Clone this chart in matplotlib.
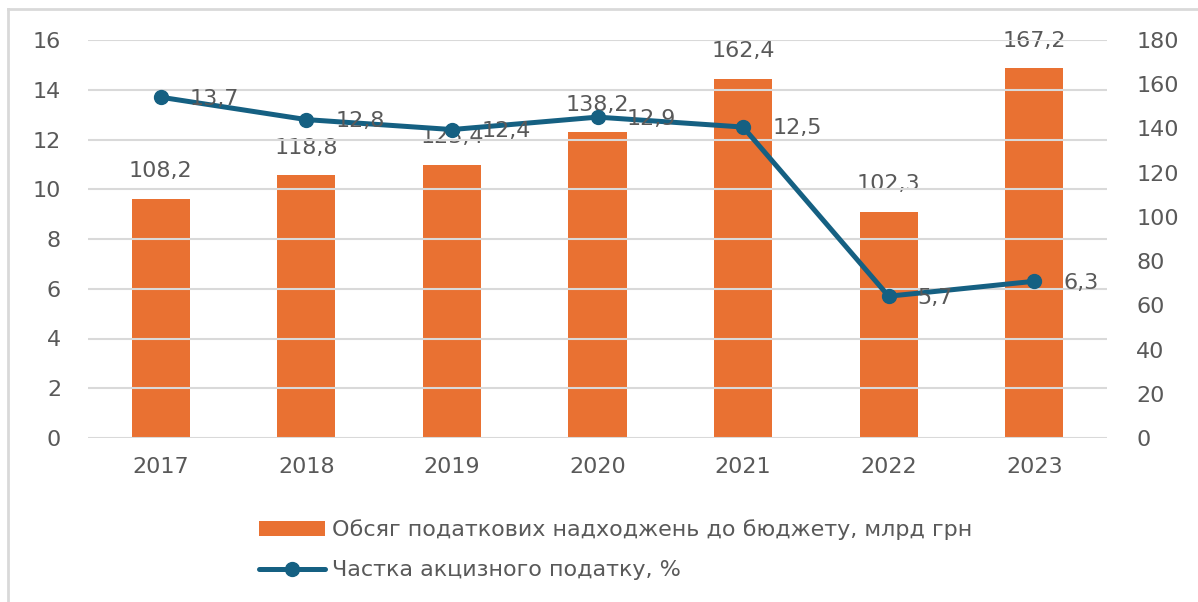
import matplotlib
matplotlib.use("Agg")
import matplotlib.pyplot as plt
from matplotlib.lines import Line2D

years = ["2017", "2018", "2019", "2020", "2021", "2022", "2023"]
revenue = [108.2, 118.8, 123.4, 138.2, 162.4, 102.3, 167.2]
excise_share = [13.7, 12.8, 12.4, 12.9, 12.5, 5.7, 6.3]
left_ticks = [0, 2, 4, 6, 8, 10, 12, 14, 16]
right_ticks = [0, 20, 40, 60, 80, 100, 120, 140, 160, 180]
bar_label = "Обсяг податкових надходжень до бюджету, млрд грн"
line_label = "Частка акцизного податку, %"

BAR_C = "#E97132"
LINE_C = "#156082"
TXT_C = "#595959"
GRID_C = "#D9D9D9"

plt.rcParams['font.family'] = ['DejaVu Sans']

fig = plt.figure(figsize=(11.98, 6.02), dpi=100)
bx, by = 8/1198, 1 - 9/602
fig.lines.append(Line2D([bx, bx], [0, by], transform=fig.transFigure, color="#D9D9D9", linewidth=2))
fig.lines.append(Line2D([bx, 1.0], [by, by], transform=fig.transFigure, color="#D9D9D9", linewidth=2))

axL = fig.add_axes([88/1198, 1 - 438/602, (1107-88)/1198, (438-40)/602])
axR = axL.twinx()

x = list(range(len(years)))

# bars on right axis
bars = axR.bar(x, revenue, width=0.4, color=BAR_C, zorder=2, label=bar_label)
axR.set_ylim(0, 180)
axR.set_yticks(right_ticks)
for xi, v in zip(x, revenue):
    axR.annotate(f"{v:.1f}".replace(".", ","), (xi, v), xytext=(0, 20), textcoords="offset points",
                 ha="center", va="center", fontsize=16, color=TXT_C)

# line on left axis
axL.set_ylim(0, 16)
axL.set_yticks(left_ticks)
axL.set_xlim(-0.5, len(years) - 0.5)
axL.set_xticks(x)
axL.set_xticklabels(years)
for t in left_ticks:
    axL.axhline(t, color=GRID_C, linewidth=1.5, zorder=0)

axL.set_zorder(axR.get_zorder() + 1)
axL.patch.set_visible(False)
line, = axL.plot(x, excise_share, color=LINE_C, linewidth=3.6, marker="o", markersize=10,
                 zorder=5, label=line_label, solid_capstyle="round")
for xi, v in zip(x, excise_share):
    axL.annotate(f"{v:.1f}".replace(".", ","), (xi, v), xytext=(21, -1), textcoords="offset points",
                 ha="left", va="center", fontsize=16, color=TXT_C, zorder=6)

for ax in (axL, axR):
    for s in ax.spines.values():
        s.set_visible(False)
    ax.tick_params(length=0, labelsize=16, labelcolor=TXT_C)
axL.tick_params(axis="y", pad=19.4)
axR.tick_params(axis="y", pad=21)
axL.tick_params(axis="x", pad=13.5)

leg = fig.legend([bars, line], [bar_label, line_label], loc="center left",
                 bbox_to_anchor=(239/1198, 1 - 550/602), frameon=False,
                 handlelength=2.95, handletextpad=0.32, labelspacing=0.9,
                 prop={'family': ['DejaVu Sans'], 'size': 16})
for t in leg.get_texts():
    t.set_color(TXT_C)

fig.savefig("out.png", dpi=100)
